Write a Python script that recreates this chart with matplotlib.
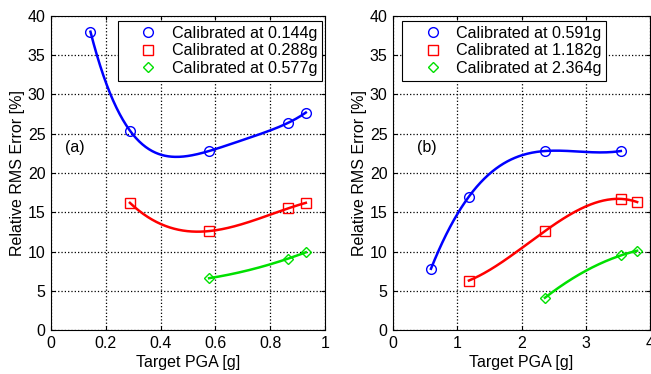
import numpy as np
import matplotlib.pyplot as plt
from matplotlib import font_manager
from matplotlib.legend_handler import HandlerLine2D

names = {f.name for f in font_manager.fontManager.ttflist}
main_font = "Liberation Sans Narrow" if "Liberation Sans Narrow" in names else "Liberation Sans"
plt.rcParams["font.family"] = [main_font, "DejaVu Sans"]
plt.rcParams["font.size"] = 11.5

# (a) low-level calibration
pga_a = [0.144, 0.288, 0.577, 0.866, 0.93]
err_a_1 = [38.0, 25.4, 22.8, 26.4, 27.7]
err_a_2 = [16.2, 12.6, 15.5, 16.2]
err_a_3 = [6.6, 9.1, 9.9]
labels_a = ["Calibrated at 0.144g", "Calibrated at 0.288g", "Calibrated at 0.577g"]

# (b) high-level calibration
pga_b = [0.591, 1.182, 2.364, 3.546, 3.8]
err_b_1 = [7.8, 17.0, 22.8, 22.8]
err_b_2 = [6.3, 12.6, 16.7, 16.3]
err_b_3 = [4.1, 9.5, 10.1]
labels_b = ["Calibrated at 0.591g", "Calibrated at 1.182g", "Calibrated at 2.364g"]

colors = ["#0000ff", "#ff0000", "#00e000"]
markers = ["o", "s", "D"]


def smooth(x, y):
    # polynomial through all the points, like a short spline
    p = np.polyfit(x, y, len(x) - 1)
    xs = np.linspace(x[0], x[-1], 200)
    return xs, np.polyval(p, xs)


def panel(ax, pga, series, labels, xmax, tag, tag_x, legend_loc, anchor):
    handles = []
    for i, ys in enumerate(series):
        # series i starts at the i-th target level
        xs = pga[i:i + len(ys)]
        cx, cy = smooth(xs, ys)
        ax.plot(cx, cy, color=colors[i], lw=1.8)
        ms = 7 if markers[i] != "D" else 5.5
        h, = ax.plot(xs, ys, ls="none", marker=markers[i], mfc="none",
                     mec=colors[i], ms=ms, mew=1.0, label=labels[i])
        handles.append(h)
    ax.set_xlim(0, xmax)
    ax.set_ylim(0, 40)
    ax.set_yticks(range(0, 41, 5))
    ax.grid(True, ls=":", color="black", lw=0.9)
    ax.tick_params(direction="in", length=3, top=True, right=True, pad=4)
    ax.set_xlabel("Target PGA [g]", labelpad=3)
    ax.set_ylabel("Relative RMS Error [%]", labelpad=2)
    ax.text(tag_x, 23.3, tag, ha="left", va="center")
    leg = ax.legend(handles=handles, loc=legend_loc, bbox_to_anchor=anchor,
                    fancybox=False, edgecolor="black", framealpha=1,
                    borderaxespad=0, handletextpad=0.45, labelspacing=0.15,
                    borderpad=0.3, handlelength=2.6, fontsize=11.6,
                    handler_map={h: HandlerLine2D(xpad=0.6) for h in handles})
    leg.get_frame().set_linewidth(0.8)


fig = plt.figure(figsize=(6.51, 3.74), dpi=100)
ax1 = fig.add_axes([51 / 651, 1 - 330 / 374, 274 / 651, 314 / 374])
ax2 = fig.add_axes([393 / 651, 1 - 330 / 374, 257 / 651, 314 / 374])

panel(ax1, pga_a, [err_a_1, err_a_2, err_a_3], labels_a, 1, "(a)", 0.05,
      "upper right", (0.989, 0.984))
panel(ax2, pga_b, [err_b_1, err_b_2, err_b_3], labels_b, 4, "(b)", 0.37,
      "upper left", (0.035, 0.984))

ax1.set_xticks([0, 0.2, 0.4, 0.6, 0.8, 1])
ax1.set_xticklabels(["0", "0.2", "0.4", "0.6", "0.8", "1"])

fig.savefig("out.png", dpi=100)
